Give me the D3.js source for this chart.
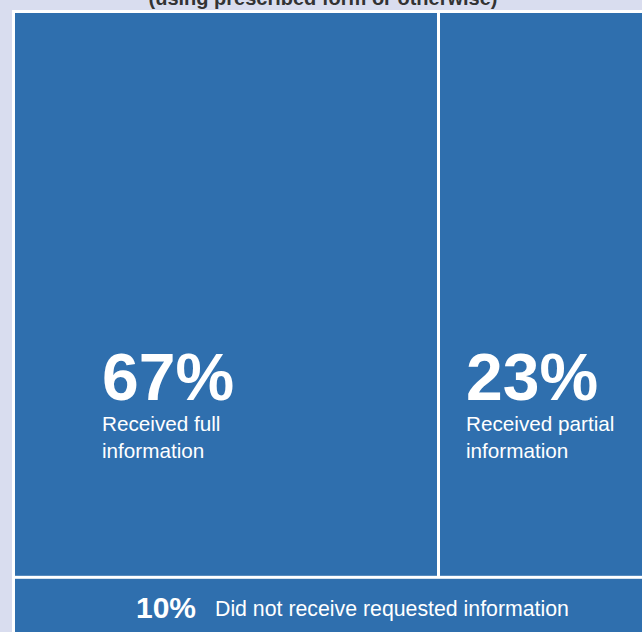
<!DOCTYPE html>
<html>
<head>
<meta charset="utf-8">
<script src="https://cdn.jsdelivr.net/npm/d3@7"></script>
<style>
  html, body { margin: 0; padding: 0; background: #d9ddef; }
  svg { display: block; }
</style>
</head>
<body>
<div id="chart"></div>
<script>
// chart values
const shares = [67, 23, 10];
const labelLines = [
    ["Received full", "information"],
    ["Received partial", "information"],
    ["Did not receive requested information"]
];
const subtitle = "(using prescribed form or otherwise)";

const width = 642, height = 632;
const blue = "#2f6fae";
const gap = 3;

const svg = d3.select("#chart").append("svg")
    .attr("width", width)
    .attr("height", height);

// cut-off subtitle at the very top (the reference is cropped there too)
svg.append("text")
    .attr("x", 323)
    .attr("y", 5)
    .attr("text-anchor", "middle")
    .style("font-family", "Liberation Sans, Arial, sans-serif")
    .style("font-weight", "bold")
    .style("font-size", "20px")
    .style("fill", "#333")
    .text(subtitle);

// white frame behind the blocks
svg.append("rect")
    .attr("x", 12)
    .attr("y", 10)
    .attr("width", width)
    .attr("height", height)
    .style("fill", "#fff");

// scales: rows split by share, top row split between first two
let y = d3.scaleLinear().domain([0, 100]).range([13, 640]);
let xTop = d3.scaleLinear().domain([0, shares[0]]).range([15, 437]);

let cells = [
    {x0: xTop(0), x1: xTop(shares[0]), y0: y(0), y1: y(100 - shares[2]) - gap / 2},
    {x0: xTop(shares[0]) + gap, x1: width + 10, y0: y(0), y1: y(100 - shares[2]) - gap / 2},
    {x0: xTop(0), x1: width + 10, y0: y(100 - shares[2]) + gap / 2, y1: y(100)}
];

svg.selectAll(".cell")
    .data(cells)
    .enter()
    .append("rect")
    .attr("class", "cell")
    .attr("x", d => d.x0)
    .attr("y", d => d.y0)
    .attr("width", d => d.x1 - d.x0)
    .attr("height", d => d.y1 - d.y0)
    .style("fill", blue);

// big labels in the top two cells
[0, 1].forEach(i => {
    let c = cells[i];
    let g = svg.append("g")
        .attr("transform", `translate(${c.x0 + (i === 0 ? 87 : 26)}, 400)`);
    g.append("text")
        .style("font-family", "Liberation Sans, Arial, sans-serif")
        .style("font-weight", "bold")
        .style("font-size", "66px")
        .style("fill", "#fff")
        .text(shares[i] + "%");
    labelLines[i].forEach((line, j) => {
        g.append("text")
            .attr("y", 31 + j * 27)
            .style("font-family", "Liberation Sans, Arial, sans-serif")
            .style("font-size", "20.7px")
            .style("fill", "#fff")
            .text(line);
    });
});

// bottom row label
let bottom = svg.append("g").attr("transform", "translate(136, 618)");
bottom.append("text")
    .style("font-family", "Liberation Sans, Arial, sans-serif")
    .style("font-weight", "bold")
    .style("font-size", "30px")
    .style("fill", "#fff")
    .text(shares[2] + "%");
bottom.append("text")
    .attr("x", 79)
    .attr("y", -2)
    .style("font-family", "Liberation Sans, Arial, sans-serif")
    .style("font-size", "21.3px")
    .style("fill", "#fff")
    .text(labelLines[2][0]);
</script>
</body>
</html>
